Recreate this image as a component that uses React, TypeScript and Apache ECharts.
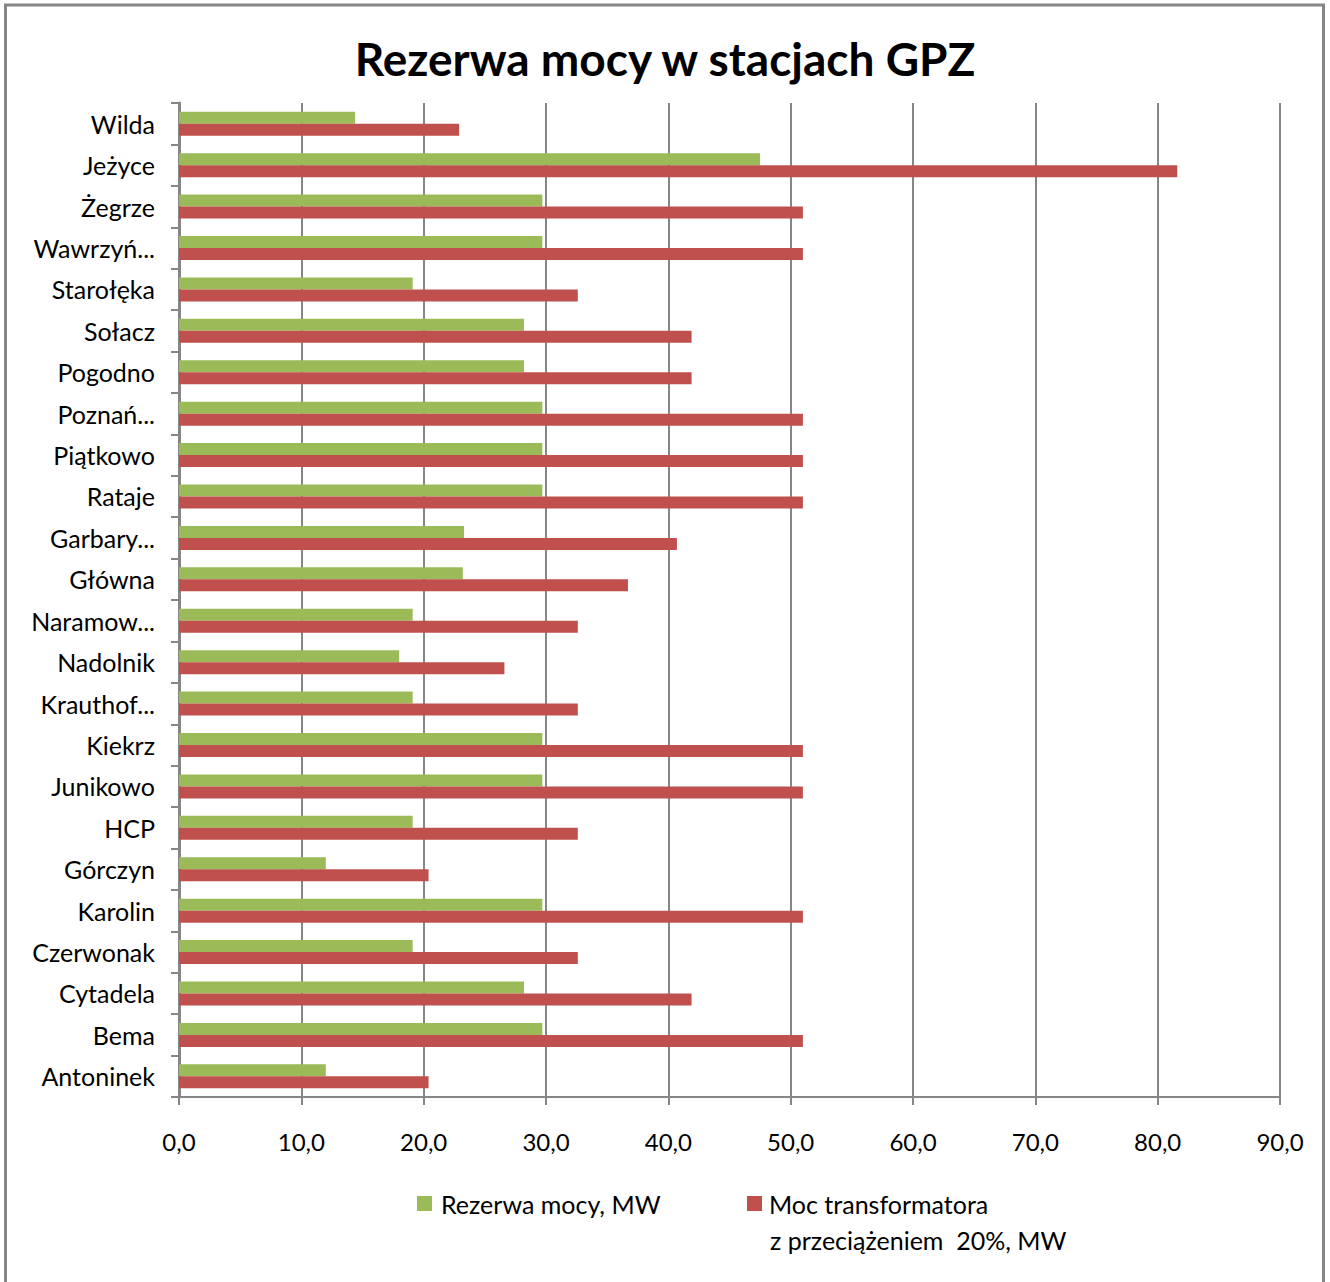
import React, { useEffect, useRef } from "react";
import * as echarts from "echarts";

const categories = [
  "Wilda", "Jeżyce", "Żegrze", "Wawrzyń...", "Starołęka", "Sołacz", "Pogodno",
  "Poznań...", "Piątkowo", "Rataje", "Garbary...", "Główna", "Naramow...",
  "Nadolnik", "Krauthof...", "Kiekrz", "Junikowo", "HCP", "Górczyn", "Karolin",
  "Czerwonak", "Cytadela", "Bema", "Antoninek",
];

const reserveMW = [
  14.4, 47.5, 29.7, 29.7, 19.1, 28.2, 28.2, 29.7, 29.7, 29.7, 23.3, 23.2, 19.1,
  18.0, 19.1, 29.7, 29.7, 19.1, 12.0, 29.7, 19.1, 28.2, 29.7, 12.0,
];

const transformerMW = [
  22.9, 81.6, 51.0, 51.0, 32.6, 41.9, 41.9, 51.0, 51.0, 51.0, 40.7, 36.7, 32.6,
  26.6, 32.6, 51.0, 51.0, 32.6, 20.4, 51.0, 32.6, 41.9, 51.0, 20.4,
];

const xTicks = { min: 0, max: 90, interval: 10 };

const TITLE = "Rezerwa mocy w stacjach GPZ";
const S1 = "Rezerwa mocy, MW";
const S2 = "Moc transformatora z przeciążeniem 20%, MW";
const S2_LINE1 = "Moc transformatora";
const S2_LINE2 = "z przeciążeniem  20%, MW";

const FONT = "Lato, 'Noto Sans', sans-serif";
const GRAY = "#868686";

export default function App() {
  const ref = useRef<HTMLDivElement>(null);

  useEffect(() => {
    document.body.style.margin = "0";
    const chart = echarts.init(ref.current!, null, { renderer: "svg" });
    chart.setOption({
      animation: false,
      backgroundColor: "#ffffff",
      textStyle: { fontFamily: FONT },
      title: {
        text: TITLE,
        left: "center",
        top: 30,
        textStyle: { fontFamily: FONT, fontSize: 46, fontWeight: "bold", color: "#000" },
      },
      grid: { left: 179, right: 50, top: 103, bottom: 185, containLabel: false },
      legend: [
        {
          data: [S1],
          left: 417,
          top: 1191,
          padding: 0,
          itemWidth: 15,
          itemHeight: 15,
          icon: "rect",
          textStyle: { fontFamily: FONT, fontSize: 25, color: "#000", padding: [0, 0, 0, 4] },
        },
        {
          data: [S2],
          left: 747,
          top: 1191,
          padding: 0,
          itemWidth: 15,
          itemHeight: 15,
          icon: "rect",
          formatter: () => S2_LINE1,
          textStyle: { fontFamily: FONT, fontSize: 25, color: "#000", padding: [0, 0, 0, 2] },
        },
      ],
      graphic: [
        {
          type: "rect",
          shape: { x: 5.5, y: 5, width: 1318, height: 1300 },
          style: { fill: "none", stroke: GRAY, lineWidth: 3 },
          silent: true,
        },
        {
          type: "text",
          x: 770,
          y: 1240,
          style: {
            text: S2_LINE2,
            fontFamily: FONT,
            fontSize: 25,
            fill: "#000",
            textVerticalAlign: "middle",
            verticalAlign: "middle",
          },
        },
      ],
      xAxis: {
        type: "value",
        min: xTicks.min,
        max: xTicks.max,
        interval: xTicks.interval,
        axisLine: { show: true, lineStyle: { color: GRAY, width: 2 } },
        axisTick: { show: true, length: 8, lineStyle: { color: GRAY, width: 2 } },
        splitLine: { show: true, lineStyle: { color: GRAY, width: 2 } },
        axisLabel: {
          fontFamily: FONT,
          fontSize: 24,
          color: "#000",
          margin: 32,
          formatter: (v: number) => v.toFixed(1).replace(".", ","),
        },
      },
      yAxis: {
        type: "category",
        inverse: true,
        data: categories,
        axisLine: { show: true, lineStyle: { color: GRAY, width: 3 } },
        axisTick: { show: true, length: 8, lineStyle: { color: GRAY, width: 2 } },
        axisLabel: { fontFamily: FONT, fontSize: 25, color: "#000", margin: 24 },
      },
      series: [
        {
          name: S1,
          type: "bar",
          data: reserveMW,
          barWidth: 12,
          barGap: "0%",
          itemStyle: { color: "#9BBB59" },
        },
        {
          name: S2,
          type: "bar",
          data: transformerMW,
          barWidth: 12,
          barGap: "0%",
          itemStyle: { color: "#C0504D" },
        },
      ],
    });
    return () => chart.dispose();
  }, []);

  return <div ref={ref} style={{ width: 1330, height: 1282 }} />;
}
